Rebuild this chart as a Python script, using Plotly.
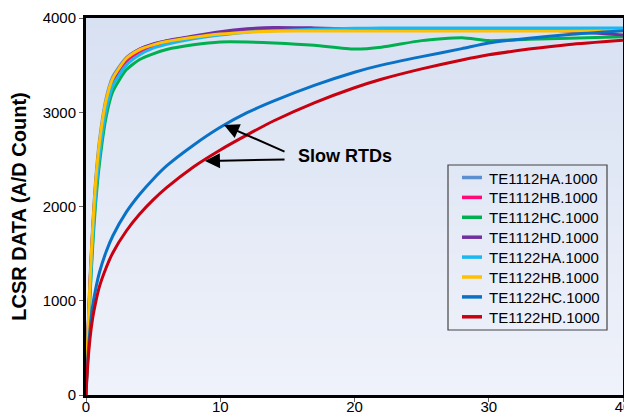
import plotly.graph_objects as go

t = [0, 0.1, 0.3, 0.5, 0.7, 1, 1.5, 2, 3, 4, 5, 6, 8, 10, 12, 14, 17, 20, 22, 25, 28, 30, 33, 36, 40]

te1112ha = [0, 500, 1250, 1800, 2250, 2700, 3150, 3380, 3580, 3670, 3720, 3755, 3800, 3840, 3860, 3875, 3880, 3880, 3880, 3880, 3880, 3880, 3880, 3880, 3880]
te1112hb = [0, 460, 1170, 1720, 2170, 2620, 3080, 3320, 3540, 3640, 3700, 3740, 3790, 3830, 3855, 3870, 3875, 3875, 3875, 3875, 3875, 3875, 3875, 3875, 3875]
te1112hc = [0, 400, 1050, 1580, 2000, 2450, 2950, 3220, 3450, 3560, 3620, 3665, 3715, 3745, 3745, 3735, 3710, 3670, 3690, 3760, 3790, 3760, 3775, 3785, 3800]
te1112hd = [0, 470, 1200, 1750, 2200, 2650, 3110, 3350, 3570, 3670, 3725, 3760, 3810, 3855, 3885, 3900, 3895, 3885, 3885, 3885, 3885, 3885, 3880, 3860, 3820]
te1122ha = [0, 420, 1100, 1650, 2080, 2530, 3020, 3280, 3500, 3610, 3680, 3720, 3780, 3820, 3850, 3865, 3880, 3890, 3893, 3895, 3895, 3895, 3895, 3895, 3895]
te1122hb = [0, 480, 1220, 1780, 2230, 2680, 3130, 3360, 3570, 3665, 3715, 3750, 3795, 3830, 3850, 3860, 3862, 3862, 3862, 3862, 3862, 3862, 3862, 3862, 3865]
te1122hc = [0, 300, 700, 950, 1110, 1300, 1520, 1690, 1940, 2130, 2290, 2430, 2650, 2840, 2995, 3120, 3285, 3425, 3500, 3590, 3675, 3735, 3785, 3825, 3865]
te1122hd = [0, 260, 600, 820, 970, 1150, 1350, 1510, 1740, 1920, 2070, 2200, 2420, 2600, 2760, 2910, 3100, 3260, 3350, 3460, 3555, 3610, 3670, 3720, 3765]

names = ["TE1112HA.1000", "TE1112HB.1000", "TE1112HC.1000", "TE1112HD.1000",
         "TE1122HA.1000", "TE1122HB.1000", "TE1122HC.1000", "TE1122HD.1000"]
series = [te1112ha, te1112hb, te1112hc, te1112hd, te1122ha, te1122hb, te1122hc, te1122hd]
colors = ["#5b8fd0", "#ff0a78", "#00b050", "#7030a0", "#19b8f0", "#ffc000", "#0a72c6", "#c8000f"]

x_ticks = [0, 10, 20, 30, 40]
y_ticks = [0, 1000, 2000, 3000, 4000]

label_text = "Slow RTDs"
label_pos = (19.3, 2540)
arrow_tails = [(14.9, 2575), (14.9, 2500)]
arrow_heads = [(10.28, 2865), (8.86, 2483)]

FONT = "Liberation Sans, Arial, sans-serif"

# plot area in page pixels (page body has an 8px margin)
PX0, PX1, PY0, PY1 = 86, 623, 18, 395


def px(x):
    return (x - PX0) / (PX1 - PX0)


def py(y):
    return (PY1 - y) / (PY1 - PY0)


fig = go.Figure()

# vertical gradient background of plot area
top = (216, 225, 242)
bot = (239, 242, 250)
n = 40
for i in range(n):
    f = i / (n - 1)
    c = tuple(round(bot[k] + (top[k] - bot[k]) * f) for k in range(3))
    fig.add_shape(type="rect", xref="x domain", yref="y domain",
                  x0=0, x1=1, y0=i / n, y1=(i + 1) / n + 0.002,
                  fillcolor="rgb(%d,%d,%d)" % c, line_width=0, layer="below")

for name, ys, col in zip(names, series, colors):
    fig.add_trace(go.Scatter(x=t, y=ys, name=name, mode="lines", showlegend=False,
                             line=dict(color=col, width=3, shape="spline", smoothing=0.6)))

# legend drawn as a box with samples and labels
fig.add_shape(type="rect", xref="paper", yref="paper",
              x0=px(448), x1=px(607), y0=py(330), y1=py(165),
              line=dict(color="#444", width=1.2), fillcolor="rgba(0,0,0,0)")
for i, (name, col) in enumerate(zip(names, colors)):
    yc = 177.5 + i * 19.9
    fig.add_shape(type="line", xref="paper", yref="paper",
                  x0=px(462), x1=px(482), y0=py(yc), y1=py(yc),
                  line=dict(color=col, width=3.5))
    fig.add_annotation(xref="paper", yref="paper", x=px(487), y=py(yc + 0.5),
                       xanchor="left", yanchor="middle", text=name, showarrow=False,
                       font=dict(size=15, color="black", family=FONT))

fig.add_annotation(x=label_pos[0], y=label_pos[1], text="<b>%s</b>" % label_text,
                   showarrow=False, font=dict(size=18, color="black", family=FONT))
for (tx, ty), (hx, hy) in zip(arrow_tails, arrow_heads):
    fig.add_annotation(x=hx, y=hy, ax=tx, ay=ty, xref="x", yref="y", axref="x", ayref="y",
                       text="", showarrow=True, arrowhead=2, arrowsize=1.5,
                       arrowwidth=2, arrowcolor="black")

fig.update_layout(
    width=624, height=409,
    margin=dict(l=PX0 - 8, r=624 + 8 - PX1, t=PY0 - 8, b=409 + 8 - PY1),
    paper_bgcolor="white",
    plot_bgcolor="rgb(239,242,250)",
    font=dict(family=FONT, size=15, color="black"),
    showlegend=False,
    xaxis=dict(range=[0, 40], tickvals=x_ticks, showgrid=False, zeroline=False,
               showline=True, mirror=True, linecolor="black", linewidth=3,
               ticks="outside", ticklen=4, tickcolor="#666", automargin=False,
               ticklabelstandoff=-8),
    yaxis=dict(range=[0, 4000], tickvals=y_ticks, showgrid=False, zeroline=False,
               showline=True, mirror=True, linecolor="black", linewidth=3,
               ticks="outside", ticklen=4, tickcolor="#666", automargin=False,
               title=dict(text="<b>LCSR DATA (A/D Count)</b>", font=dict(size=20), standoff=12)),
)

fig.write_html("out.html")
